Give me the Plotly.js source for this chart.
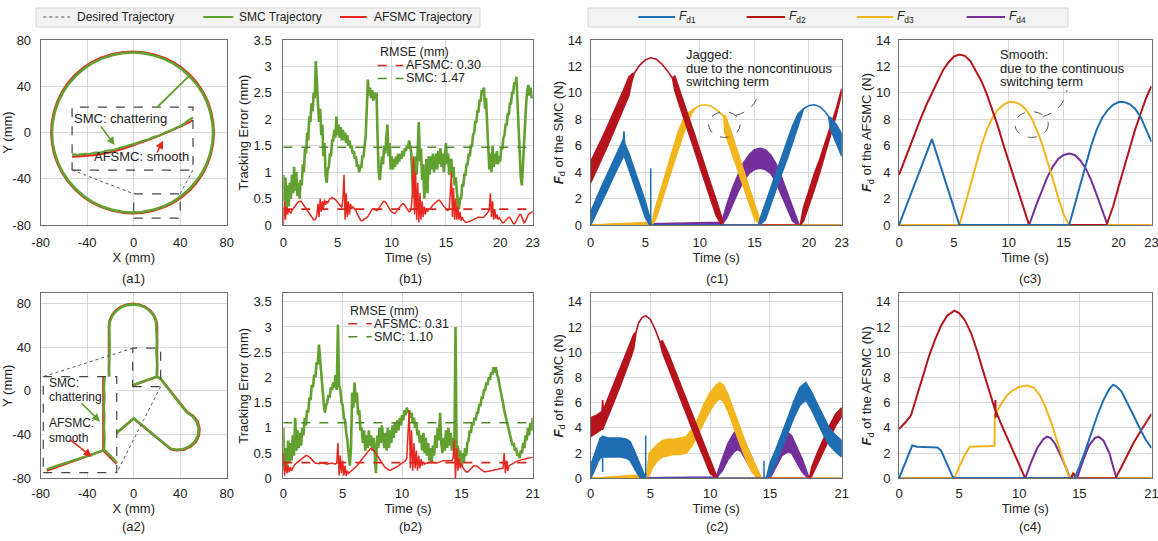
<!DOCTYPE html>
<html><head><meta charset="utf-8">
<script src="https://cdn.plot.ly/plotly-3.0.1.min.js"></script>
<style>html,body{margin:0;padding:0;background:#fff}#chart{width:1158px;height:541px}</style>
</head><body><div id="chart"></div>
<script>
// ---------------- DATA ----------------
// (a1) circular trajectory, mm
const A1_DES_X = [68.5,66.1,59.2,48.1,33.8,17.0,-1,-19.0,-35.8,-50.1,-61.2,-68.1,-70.5,-68.1,-61.2,-50.1,-35.8,-19.0,-1,17.0,33.8,48.1,59.2,66.1,68.5];
const A1_DES_Y = [0,18.0,34.8,49.1,60.2,67.1,69.5,67.1,60.2,49.1,34.8,18.0,0,-18.0,-34.8,-49.1,-60.2,-67.1,-69.5,-67.1,-60.2,-49.1,-34.8,-18.0,0];
const A1_AF_X = [69.0,66.6,59.7,48.6,34.1,17.2,-1,-19.2,-36.2,-50.7,-61.8,-68.6,-71.0,-68.6,-61.6,-50.4,-36.0,-19.1,-1,17.2,34.1,48.6,59.7,66.6,69.0];
const A1_AF_Y = [0,18.2,35.1,49.6,60.7,67.6,70.0,67.7,60.8,49.7,35.1,18.1,0,-18.1,-35.0,-49.4,-60.5,-67.4,-69.9,-67.6,-60.7,-49.6,-35.1,-18.1,0];
const A1_SMC_X = [68.3,65.8,59.0,47.8,33.6,16.8,-1,-18.8,-35.6,-49.9,-61.0,-67.8,-70.3,-67.9,-61.0,-49.9,-35.6,-18.9,-1,16.9,33.6,47.9,59.0,65.9,68.3];
const A1_SMC_Y = [0,17.9,34.6,48.9,59.9,66.8,69.2,66.9,60.0,48.9,34.6,17.9,0,-17.9,-34.6,-48.9,-60.0,-66.9,-69.3,-66.9,-60.0,-48.9,-34.6,-17.9,0];
// (a1) magnified view
const A1_IN_AF_X = [-53,-40,-30,-20,-10,0,10,20,30,40,51];
const A1_IN_AF_Y = [-21,-20.2,-19,-17,-14.3,-11,-7.5,-3.5,0.5,5,10.5];
const A1_IN_SMC_X = [-53,-48,-43,-38,-33,-28,-23,-18,-13,-8,-3,2,7,12,17,22,27,32,37,42,47,51];
const A1_IN_SMC_Y = [-19,-19.4,-18.5,-18.6,-17.4,-17.2,-15.8,-15.3,-13.6,-12.4,-10.7,-9.4,-7.6,-6.2,-4,-2.7,-0.1,1.7,4.3,6.5,10.5,13];

// (a2) composite trajectory, mm
const A2_DES_X = [-0.3,19.8,19.8,19.1,17.1,13.8,9.6,4.7,-0.6,-5.9,-10.8,-15.0,-18.3,-20.3,-21.0,-21.0,0,31.8,36.4,42.7,48.3,52.7,55.4,55.9,54.3,50.7,45.6,23,19.8];
const A2_DES_Y = [5.3,12.9,58.6,63.9,68.8,73.0,76.3,78.3,79.0,78.3,76.3,73.0,68.8,63.9,58.6,-44.3,-25.1,-52.9,-53.9,-53.4,-50.7,-46.3,-40.7,-34.4,-28.4,-23.3,-19.7,11,12.9];
const A2_AF_X = [-0.3,20.2,20.2,19.5,17.5,14.2,9.8,4.8,-0.6,-6.1,-11.1,-15.4,-18.8,-20.8,-21.4,-21.4,0,31.7,36.5,43.0,48.8,53.4,56.2,56.8,55.1,51.3,46.0,23.3,20.2];
const A2_AF_Y = [5.0,12.9,58.6,64.1,69.2,73.5,76.9,78.9,79.7,78.9,76.9,73.5,69.2,64.1,58.6,-44.6,-25.5,-53.4,-54.6,-54.1,-51.3,-46.8,-41.0,-34.5,-28.2,-23.0,-19.3,11.2,12.9];
const A2_SMC_X = [-0.3,10,19.8,20.1,19.6,20.0,19.8,19.1,17.1,13.8,9.6,4.7,-0.6,-5.9,-10.8,-15.0,-18.3,-20.3,-21.0,-20.7,-21.2,-20.8,-21.0,0,15,31.8,36.4,42.7,48.3,52.7,55.4,55.9,54.3,50.7,45.6,35,23,19.8];
const A2_SMC_Y = [5.3,9.1,12.9,24,35,46,58.6,63.9,68.8,73.0,76.3,78.3,79.0,78.3,76.3,73.0,68.8,63.9,58.6,40,20,0,-44.3,-25.1,-38.3,-52.9,-53.9,-53.4,-50.7,-46.3,-40.7,-34.4,-28.4,-23.3,-19.7,-5.5,11,12.9];
// (a2) magnified view
const A2_IN_AF_X = [-26.2,-26.2,-74.8,null,-26.2,-14.6];
const A2_IN_AF_Y = [12.9,-54.6,-73.0,null,-54.6,-66.8];
const A2_IN_SMC_X = [-25.0,-25.6,-25.1,-25.7,-25.2,-25.6,-25.1,-25.5,-35,-45,-55,-65,-74.8,null,-25.5,-20,-14.6];
const A2_IN_SMC_Y = [12.9,3,-6,-15,-24,-33,-43,-54.1,-58.0,-61.2,-64.9,-68.2,-71.8,null,-54.1,-59.3,-65.8];

// (b1) tracking error, mm, sampled every 0.1 s from 0 to 23 s
const B1_DT = 0.1;
const B1_SMC = [0.95,
0.45,0.9,0.3,0.75,0.35, 0.8,0.5,0.95,0.6,1.1, 0.65,1.0,0.55,0.8,0.5, 0.85,0.75,1.15,1.0,1.45,
1.35,1.75,1.6,2.05,1.95, 2.3,2.15,2.5,2.4,3.1, 2.6,2.3,1.95,2.2,1.7, 1.9,1.3,1.55,0.95,0.8,
1.05,1.1,1.35,1.3,1.6, 1.6,1.8,1.65,2.05,1.7, 1.9,1.65,1.85,1.6,1.8, 1.6,1.75,1.55,1.7,1.5,
1.6,1.45,1.5,1.35,1.4, 1.25,1.3,1.1,1.15,1.0, 1.1,1.1,1.3,1.3,1.5, 1.7,2.2,2.75,2.45,2.6,
2.4,2.55,2.35,2.5,2.4, 2.5,1.6,1.0,0.85,1.15, 1.3,1.15,1.5,1.35,1.6, 1.9,1.3,1.55,1.05,1.3,
1.05,1.25,1.1,1.3,1.15, 1.35,1.2,1.35,1.25,1.4, 1.3,1.45,1.4,1.5,1.45, 1.6,1.5,1.35,0.9,0.5,
0.75,1.3,0.95,1.6,1.95, 1.2,1.45,0.85,1.15,0.5, 0.85,1.25,0.6,1.3,0.95, 1.3,1.05,1.35,1.0,1.25,
1.35,1.05,1.4,1.15,1.45, 1.1,1.35,1.0,1.3,1.55, 1.15,1.35,0.95,1.2,1.25, 0.9,1.1,0.75,0.9,0.55,
0.4,0.3,0.5,0.5,0.75, 0.75,0.95,0.95,1.15,1.15, 1.35,1.3,1.5,1.5,1.7, 1.75,1.95,1.95,2.15,2.15,
2.35,2.35,2.55,2.5,2.6, 2.2,2.4,1.9,1.5,1.05, 1.35,1.0,1.5,1.1,1.35, 1.15,1.4,1.15,1.3,1.2,
1.45,1.45,1.65,1.7,1.9, 1.9,2.1,2.1,2.3,2.3, 2.5,2.5,2.7,2.65,2.8, 2.3,1.8,1.3,0.9,0.75,
1.2,1.7,2.1,2.3,2.55, 2.65,2.45,2.6,2.4,2.45];
const B1_AFSMC = [0.0,
0.45,0.1,0.35,0.2,0.3, 0.25,0.22,0.28,0.3,0.33, 0.36,0.4,0.42,0.44,0.45, 0.45,0.43,0.4,0.37,0.34,
0.3,0.27,0.24,0.2,0.17, 0.14,0.12,0.1,0.1,0.12, 0.2,0.4,0.15,0.5,0.25, 0.45,0.3,0.48,0.38,0.45,
0.42,0.47,0.5,0.5,0.52, 0.51,0.5,0.48,0.46,0.43, 0.4,0.37,0.35,0.33,0.5, 0.95,0.1,0.6,0.15,0.45,
0.2,0.4,0.3,0.35,0.32, 0.3,0.27,0.22,0.17,0.13, 0.1,0.08,0.08,0.1,0.11, 0.12,0.14,0.16,0.2,0.24,
0.27,0.3,0.31,0.3,0.28, 0.27,0.28,0.31,0.35,0.39, 0.42,0.44,0.45,0.44,0.41, 0.37,0.33,0.3,0.27,0.25,
0.23,0.22,0.22,0.24,0.27, 0.3,0.33,0.36,0.39,0.4, 0.4,0.38,0.34,0.3,0.27, 0.25,0.26,0.3,0.6,1.3,
0.2,1.0,0.1,0.8,0.05, 0.6,0.1,0.45,0.15,0.35, 0.2,0.32,0.25,0.3,0.3, 0.32,0.35,0.38,0.4,0.42,
0.44,0.46,0.47,0.47,0.45, 0.42,0.38,0.35,0.32,0.3, 0.28,0.28,0.3,0.6,1.0, 0.15,0.7,0.1,0.5,0.1,
0.35,0.1,0.25,0.08,0.15, 0.1,0.07,0.05,0.05,0.05, 0.06,0.07,0.08,0.1,0.11, 0.12,0.13,0.14,0.14,0.15,
0.14,0.14,0.13,0.14,0.15, 0.17,0.2,0.22,0.25,0.3, 0.6,0.15,0.45,0.1,0.3, 0.12,0.2,0.1,0.14,0.1,
0.08,0.05,0.04,0.06,0.08, 0.1,0.13,0.15,0.14,0.1, 0.06,0.03,0.02,0.04,0.08, 0.12,0.16,0.2,0.2,0.15,
0.08,0.04,0.06,0.12,0.17, 0.2,0.22,0.23,0.24,0.25];
const B1_RMSE = [0.30, 1.47];            // [AFSMC, SMC]
const B1_TEND = 23;

// (b2) tracking error, mm, sampled every 0.1 s from 0 to 21 s
const B2_DT = 0.1;
const B2_SMC = [1.0,
0.15,0.6,0.2,0.75,0.3, 0.7,0.35,0.85,0.45,1.2, 0.55,0.95,0.6,0.9,0.65, 1.0,0.85,1.2,1.05,1.35,
1.3,1.6,1.55,1.85,1.8, 2.05,2.0,2.3,2.25,2.65, 2.35,2.0,1.75,1.5,1.3, 1.45,1.5,1.65,1.6,1.8,
1.75,1.9,1.8,2.05,1.75, 3.05,1.85,1.75,1.5,1.45, 1.2,1.15,0.9,0.75,0.5, 0.25,0.6,1.7,1.4,1.9,
1.5,1.7,1.25,1.35,0.95, 1.0,0.7,0.95,0.55,0.85, 0.6,0.95,0.65,0.85,0.55, 0.8,0.5,0.1,0.85,0.6,
1.0,0.7,1.05,0.75,0.6, 0.9,0.55,1.0,0.6,0.95, 0.7,1.05,0.8,1.1,0.9, 1.15,0.95,1.2,1.05,1.25,
1.15,1.35,1.25,1.4,1.3, 1.35,1.2,1.3,1.1,1.2, 1.0,1.1,0.85,0.95,0.7, 0.85,0.55,0.9,0.5,0.8,
0.45,0.7,0.35,0.6,0.3, 0.65,0.45,0.85,0.6,1.0, 0.75,1.3,0.7,0.5,0.8, 0.55,0.95,0.6,1.0,0.65,
0.9,0.55,0.8,0.45,3.0, 0.4,0.65,0.3,0.55,0.25, 0.5,0.3,0.6,0.45,0.7, 0.75,0.95,0.9,1.1,1.05,
1.2,1.15,1.3,1.3,1.45, 1.45,1.6,1.6,1.75,1.75, 1.9,1.85,2.0,1.95,2.1, 2.05,2.2,2.1,2.2,2.05,
2.0,1.85,1.75,1.6,1.5, 1.35,1.25,1.1,1.0,0.9, 0.8,0.75,0.65,0.7,0.55, 0.6,0.45,0.5,0.4,0.55,
0.5,0.7,0.6,0.85,0.75, 1.0,0.85,1.1,0.95,1.2];
const B2_AFSMC = [0.5,
0.05,0.3,0.1,0.25,0.12, 0.22,0.15,0.2,0.25,0.28, 0.3,0.32,0.34,0.36,0.38, 0.4,0.42,0.44,0.45,0.45,
0.44,0.42,0.4,0.37,0.34, 0.32,0.3,0.3,0.29,0.29, 0.3,0.31,0.31,0.3,0.29, 0.28,0.28,0.29,0.3,0.3,
0.3,0.3,0.29,0.28,0.3, 0.7,0.05,0.45,0.1,0.35, 0.05,0.25,0.05,0.15,0.1, 0.12,0.14,0.16,0.18,0.2,
0.22,0.25,0.28,0.31,0.35, 0.38,0.42,0.45,0.48,0.51, 0.54,0.56,0.58,0.59,0.58, 0.56,0.53,0.5,0.46,0.42,
0.38,0.34,0.3,0.27,0.24, 0.21,0.19,0.17,0.16,0.16, 0.17,0.18,0.19,0.2,0.21, 0.23,0.25,0.27,0.29,0.3,
0.32,0.33,0.35,0.4,0.9, 1.35,0.2,0.95,0.15,0.7, 0.2,0.55,0.15,0.45,0.2, 0.38,0.25,0.33,0.28,0.3,
0.3,0.31,0.32,0.33,0.33, 0.32,0.31,0.3,0.3,0.31, 0.32,0.33,0.34,0.34,0.35, 0.35,0.35,0.35,0.35,0.34,
0.34,0.35,0.4,0.75,0.0, 0.6,0.15,0.4,0.2,0.3, 0.22,0.18,0.15,0.13,0.12, 0.14,0.17,0.2,0.22,0.24,
0.25,0.25,0.24,0.22,0.2, 0.18,0.16,0.14,0.13,0.13, 0.13,0.14,0.14,0.15,0.15, 0.16,0.16,0.17,0.17,0.18,
0.18,0.19,0.19,0.2,0.2, 0.5,0.1,0.35,0.15,0.25, 0.26,0.28,0.29,0.3,0.32, 0.33,0.34,0.35,0.36,0.36,
0.37,0.38,0.38,0.39,0.39, 0.4,0.4,0.41,0.41,0.42];
const B2_RMSE = [0.31, 1.10];            // [AFSMC, SMC]
const B2_TEND = 21;

// (c1) SMC forces, N: time, lower and upper edge of the chattering band
const C1_FD1_T  = [0,0.5,1,1.5,2,2.5,3,3.05,3.1,3.5,4,4.5,5,5.4,5.5,15.4,15.5,16,16.5,17,17.5,18,18.5,19,19.5,20,20.5,21,21.5,21.8,22,22.5,23];
const C1_FD1_LO = [0,0.8,1.7,2.6,3.5,4.4,5.2,5.3,5.1,4.1,2.9,1.8,0.6,0,0,0,0,0.4,1.6,2.7,3.9,5.0,6.2,7.5,8.8,9.05,9.1,8.95,8.55,8.2,7.2,6.2,5.2];
const C1_FD1_HI = [1.0,2.0,2.9,3.8,4.7,5.6,6.5,7.1,6.2,5.4,4.2,3.0,1.8,0.6,0,0,0.4,1.6,2.8,4.0,5.2,6.3,7.5,8.4,8.8,9.05,9.1,8.95,8.55,8.2,8.1,7.6,6.9];
const C1_FD1_SPIKE_T = [5.5], C1_FD1_SPIKE_LO = [0], C1_FD1_SPIKE_HI = [4.3];
const C1_FD2_T  = [0,0.5,1,1.5,2,2.5,3,3.5,3.75,4,4.5,5,5.5,6,6.5,7,7.5,7.7,8,8.5,9,9.5,10,10.5,11,11.5,12,12.1,19.2,19.5,20,20.5,21,21.5,22,22.5,23];
const C1_FD2_LO = [3.2,4.1,5.0,5.9,6.8,7.8,8.8,9.8,10.8,11.5,12.1,12.5,12.65,12.55,12.2,11.7,11.1,10.2,9.4,8.2,6.9,5.7,4.4,3.2,1.9,0.7,0,0,0,0.3,1.5,2.7,4.0,5.3,6.8,8.3,10.0];
const C1_FD2_HI = [4.8,5.6,6.5,7.4,8.3,9.2,10.2,11.2,11.4,11.5,12.1,12.5,12.65,12.55,12.2,11.7,11.1,11.3,10.6,9.4,8.1,6.9,5.6,4.4,3.1,1.9,0.6,0,0,1.3,2.6,3.9,5.0,6.3,7.5,8.8,10.3];
const C1_FD3_T  = [0,5.6,6,6.5,7,7.5,8,8.5,9,9.5,10,10.5,11,11.5,12,12.2,12.3,12.5,13,13.5,14,14.5,15,15.5,15.6,23];
const C1_FD3_LO = [0,0,0.5,1.8,3.1,4.4,5.7,6.9,8.0,8.8,9.05,9.1,9.0,8.75,8.4,8.2,7.0,6.6,5.4,4.1,2.9,1.7,0.5,0,0,0];
const C1_FD3_HI = [0,0.2,1.5,2.9,4.3,5.7,7.0,8.0,8.5,8.8,9.05,9.1,9.0,8.75,8.4,8.2,8.3,7.9,6.7,5.4,4.1,2.8,1.6,0.4,0,0];
const C1_FD4_T  = [0,12,12.5,13,13.5,14,14.5,15,15.5,16,16.5,17,17.5,18,18.5,19,19.1,23];
const C1_FD4_LO = [0,0,0.6,1.6,2.5,3.3,3.9,4.2,4.3,4.2,3.9,3.2,2.3,1.3,0.3,0,0,0];
const C1_FD4_HI = [0,0.2,1.6,2.8,3.8,4.7,5.3,5.7,5.8,5.7,5.3,4.6,3.6,2.5,1.4,0.2,0,0];

// (c2) SMC forces, N
const C2_FD1_T  = [0,0.3,0.6,0.8,1.0,1.5,2,2.5,3,3.3,3.6,3.9,4.2,4.5,4.6,14.7,15,15.5,16,16.5,17,17.5,18,18.5,19,19.5,20,20.5,21];
const C2_FD1_LO = [0,0.6,1.3,1.6,1.7,1.7,1.7,1.7,1.6,1.4,0.9,0.4,0,0,0,0,0.2,1.2,2.4,3.6,4.8,5.8,6.2,5.4,4.4,3.4,2.6,2.1,1.7];
const C2_FD1_HI = [1.0,1.8,2.7,3.2,3.3,3.2,3.2,3.2,3.1,2.9,2.3,1.6,0.8,0.2,0,0,1.2,2.3,3.5,4.8,6.1,7.2,7.6,6.8,5.8,4.8,3.9,3.4,3.0];
const C2_FD1_SPIKE_T = [1.0,4.6,14.5], C2_FD1_SPIKE_LO = [0.5,0,0], C2_FD1_SPIKE_HI = [3.4,3.4,1.4];
const C2_FD2_T  = [0,0.5,0.95,1.0,1.05,1.5,2,2.5,3,3.4,3.6,3.8,4,4.3,4.6,5.0,5.4,5.8,6,6.5,7,7.5,8,8.5,9,9.5,10,10.5,10.6,18.3,18.5,19,19.5,20,20.5,21];
const C2_FD2_LO = [3.3,3.6,3.9,3.9,4.0,5.0,6.2,7.4,8.6,9.7,10.3,11.6,12.3,12.75,12.9,12.6,11.8,10.8,10.0,8.7,7.5,6.3,5.1,3.9,2.7,1.5,0.4,0,0,0,0.2,1.2,2.2,3.2,4.2,4.9];
const C2_FD2_HI = [4.8,5.0,5.3,6.2,5.4,6.5,7.6,8.8,10.0,11.0,11.4,11.6,12.3,12.75,12.9,12.6,11.8,10.8,10.9,9.9,8.7,7.5,6.3,5.1,3.9,2.7,1.5,0.3,0,0,0.9,2.1,3.2,4.2,5.1,5.6];
const C2_FD3_T  = [0,4.7,4.9,5.2,5.6,6,6.5,7,7.5,8,8.5,9,9.5,10,10.5,10.8,11.1,11.5,12,12.5,13,13.5,14,14.2,14.3,21];
const C2_FD3_LO = [0,0,0.3,0.9,1.4,1.7,1.8,1.9,1.9,2.0,2.6,3.5,4.5,5.4,6.1,6.3,6.1,5.3,4.0,2.7,1.5,0.5,0,0,0,0];
const C2_FD3_HI = [0,0.3,2.0,2.3,2.7,3.0,3.1,3.1,3.2,3.3,3.9,4.8,5.9,6.8,7.4,7.6,7.4,6.6,5.3,4.0,2.7,1.6,0.6,0.1,0,0];
const C2_FD4_T  = [0,10.5,11,11.5,12,12.3,12.6,13,13.5,14,14.1,15,15.5,16,16.5,16.8,17.2,17.7,18.2,18.3,21];
const C2_FD4_LO = [0,0,0.6,1.5,2.1,2.3,2.1,1.5,0.6,0,0,0,0.9,1.8,2.1,2.0,1.4,0.5,0,0,0];
const C2_FD4_HI = [0,0.1,1.5,2.8,3.6,3.8,3.5,2.7,1.6,0.2,0,0.1,1.8,3.1,3.6,3.4,2.6,1.5,0.2,0,0];

// (c3) AFSMC forces, N
const C3_FD1_T = [0,3,5.5,15.5,16,16.5,17,17.5,18,18.5,19,19.5,20,20.5,21,21.5,22,22.5,23];
const C3_FD1_V = [0,6.5,0,0,1.5,3.0,4.6,6.0,7.2,8.1,8.7,9.1,9.3,9.3,9.15,8.8,8.2,7.3,6.3];
const C3_FD2_T = [0,0.5,1,1.5,2,2.5,3,3.5,4,4.5,5,5.5,6,6.5,7,7.5,8,8.5,9,9.5,10,10.5,11,11.5,11.85,18.9,19.5,20,20.5,21,21.5,22,22.5,23];
const C3_FD2_V = [3.8,4.9,6.0,7.1,8.1,9.1,10.0,10.9,11.7,12.3,12.75,12.9,12.8,12.4,11.7,10.9,9.9,8.7,7.5,6.1,4.8,3.4,2.1,0.8,0,0,1.4,2.9,4.3,5.8,7.2,8.4,9.6,10.5];
const C3_FD3_T = [0,5.5,6,6.5,7,7.5,8,8.5,9,9.5,10,10.5,11,11.5,12,12.5,13,13.5,14,14.5,15,15.5,23];
const C3_FD3_V = [0,0,1.5,3.0,4.6,6.0,7.2,8.1,8.7,9.1,9.3,9.3,9.15,8.8,8.2,7.3,6.2,4.9,3.5,2.1,0.8,0,0];
const C3_FD4_T = [0,11.85,12.5,13,13.5,14,14.5,15,15.5,16,16.5,17,17.5,18,18.5,19,23];
const C3_FD4_V = [0,0,1.5,2.6,3.6,4.4,5.0,5.3,5.4,5.3,4.9,4.3,3.4,2.3,1.1,0,0];

// (c4) AFSMC forces, N
const C4_FD1_T = [0,0.5,1.0,1.1,1.5,2,2.5,3,3.2,3.5,3.8,4.1,4.4,4.55,14.6,15,15.5,16,16.5,17,17.5,17.8,18,18.5,19,19.5,20,20.5,21];
const C4_FD1_V = [0,1.2,2.5,2.6,2.5,2.5,2.5,2.5,2.45,2.2,1.6,0.9,0.25,0,0,0.9,2.2,3.6,5.0,6.2,7.1,7.4,7.35,6.9,6.0,5.0,4.0,3.1,2.4];
const C4_FD2_T = [0,0.5,1,1.5,2,2.5,3,3.5,4,4.6,5,5.5,6,6.5,7,7.5,8.0,8.02,8.04,8.06,8.5,9,9.5,10,10.5,14.3,14.5,14.7,18,18.5,19,19.5,20,20.5,21];
const C4_FD2_V = [3.9,4.4,5.0,6.6,8.2,9.7,11.0,12.1,12.9,13.3,13.1,12.5,11.5,10.1,8.5,6.9,5.4,6.2,4.8,5.3,4.3,3.2,2.1,1.0,0,0,0.4,0,0,0.9,1.9,2.8,3.6,4.4,5.1];
const C4_FD3_T = [0,4.6,5,5.5,5.9,6.5,7,7.5,7.95,7.97,8.5,9,9.5,10,10.7,11.2,11.7,12.2,12.7,13.2,13.7,14.1,14.3,14.5,14.7,21];
const C4_FD3_V = [0,0,0.9,1.9,2.5,2.55,2.55,2.55,2.6,5.0,5.9,6.6,7.0,7.25,7.35,7.2,6.6,5.6,4.3,2.8,1.4,0.2,0,0.5,0,0];
const C4_FD4_T = [0,10.5,11,11.5,12,12.3,12.6,13,13.5,14,14.2,14.8,15.3,15.8,16.3,16.6,17,17.5,17.9,18.1,21];
const C4_FD4_V = [0,0,1.3,2.4,3.1,3.3,3.2,2.7,1.7,0.6,0,0,1.4,2.6,3.2,3.3,3.0,2.0,0.6,0,0];

// tick labels
const POS_TICKS = [-80,-40,0,40,80];
const ERR_TICKS = [0,0.5,1,1.5,2,2.5,3,3.5];
const F_TICKS = [0,2,4,6,8,10,12,14];
const T23_TICKS = [0,5,10,15,20,23];
const T21_TICKS = [0,5,10,15,21];
const FD_NAMES = ['<i>F</i><sub>d1</sub>','<i>F</i><sub>d2</sub>','<i>F</i><sub>d3</sub>','<i>F</i><sub>d4</sub>'];
const TRAJ_NAMES = ['Desired Trajectory','SMC Trajectory','AFSMC Trajectory'];

// ---------------- STYLE / LAYOUT ----------------
const W = 1158, H = 541;
const PX = v => v / W, PY = v => 1 - v / H;
const FONT = 'Liberation Sans, Arial, Helvetica, sans-serif';
const GREEN = '#62a030', RED = '#e8281e', GRAY = '#8a8a8a', DARK = '#444';
const C_BLUE = '#1f6db3', C_RED = '#b5141c', C_YEL = '#f2b51d', C_PUR = '#74309a';
const FD_COLORS = [C_BLUE, C_RED, C_YEL, C_PUR];
const INSET_A2 = {x0: -77.8, x1: -14.6, y0: -74.8, y1: 12.9};

function mkAxis(dom, range, vals, title, tls, standoff) {
  return {
    domain: dom, range: range, tickmode: 'array', tickvals: vals,
    ticktext: vals.map(String),
    showgrid: true, gridcolor: '#d9d9d9', gridwidth: 1, zeroline: false,
    showline: true, linecolor: '#6e6e6e', linewidth: 1, mirror: true,
    ticks: '', ticklabelstandoff: tls, ticklabeloverflow: 'allow',
    tickfont: {family: FONT, size: 13, color: '#222'},
    title: {text: title, font: {family: FONT, size: 13, color: '#222'}, standoff: standoff},
    automargin: false, fixedrange: true
  };
}

const COL = {a: [PX(40.7), PX(226.7)], b: [PX(283.3), PX(532.7)], c: [PX(590.7), PX(841.7)], d: [PX(899), PX(1151.5)]};
const ROW1 = [PY(225), PY(40)], ROW2 = [PY(478.3), PY(293.3)];
const FTITLE_SMC = '<b><i>F</i></b><sub>d</sub> of the SMC (N)';
const FTITLE_AF = '<b><i>F</i></b><sub>d</sub> of the AFSMC (N)';

const traces = [];
function line(x, y, xa, ya, color, width, extra) {
  traces.push(Object.assign({type: 'scatter', mode: 'lines', x: x, y: y, xaxis: xa, yaxis: ya,
    line: {color: color, width: width}, hoverinfo: 'skip', showlegend: false}, extra || {}));
}
function band(t, lo, hi, xa, ya, color) {
  traces.push({type: 'scatter', mode: 'lines', xaxis: xa, yaxis: ya,
    x: t.concat(t.slice().reverse()), y: hi.concat(lo.slice().reverse()),
    fill: 'toself', fillcolor: color, line: {color: color, width: 1.6},
    hoverinfo: 'skip', showlegend: false});
}
function spikes(t, lo, hi, xa, ya, color) {
  const x = [], y = [];
  t.forEach((v, i) => { x.push(v, v, null); y.push(lo[i], hi[i], null); });
  line(x, y, xa, ya, color, 1.5);
}
function series(dt, vals, xa, ya, color, width) {
  traces.push({type: 'scatter', mode: 'lines', x0: 0, dx: dt, y: vals, xaxis: xa, yaxis: ya,
    line: {color: color, width: width}, hoverinfo: 'skip', showlegend: false});
}

// (a1)
line(A1_DES_X, A1_DES_Y, 'x', 'y', GRAY, 1.5, {line: {color: GRAY, width: 1.5, dash: 'dot', shape: 'spline'}});
line(A1_AF_X, A1_AF_Y, 'x', 'y', RED, 2.2, {line: {color: RED, width: 2.2, shape: 'spline'}});
line(A1_SMC_X, A1_SMC_Y, 'x', 'y', GREEN, 2.6, {line: {color: GREEN, width: 2.6, shape: 'spline'}});
line(A1_IN_AF_X, A1_IN_AF_Y, 'x', 'y', RED, 2, {line: {color: RED, width: 2, shape: 'spline'}});
line(A1_IN_SMC_X, A1_IN_SMC_Y, 'x', 'y', GREEN, 2.2);

// (a2)
line(A2_DES_X, A2_DES_Y, 'x5', 'y5', GRAY, 1.5, {line: {color: GRAY, width: 1.5, dash: 'dot'}});
line(A2_AF_X, A2_AF_Y, 'x5', 'y5', RED, 2.2);
line(A2_SMC_X, A2_SMC_Y, 'x5', 'y5', GREEN, 2.6);
traces.push({type: 'scatter', mode: 'lines', xaxis: 'x5', yaxis: 'y5', hoverinfo: 'skip', showlegend: false,
  x: [INSET_A2.x0, INSET_A2.x1, INSET_A2.x1, INSET_A2.x0, INSET_A2.x0],
  y: [INSET_A2.y1, INSET_A2.y1, INSET_A2.y0, INSET_A2.y0, INSET_A2.y1],
  fill: 'toself', fillcolor: '#ffffff', line: {width: 0, color: 'rgba(0,0,0,0)'}});
line(A2_IN_AF_X, A2_IN_AF_Y, 'x5', 'y5', RED, 2.2);
line(A2_IN_SMC_X, A2_IN_SMC_Y, 'x5', 'y5', GREEN, 2.4);

// (b1), (b2)
series(B1_DT, B1_SMC, 'x2', 'y2', GREEN, 2.6);
series(B1_DT, B1_AFSMC, 'x2', 'y2', RED, 1.5);
line([0, B1_TEND], [B1_RMSE[0], B1_RMSE[0]], 'x2', 'y2', '#d7261e', 1.6, {line: {color: '#d7261e', width: 1.6, dash: 'dash'}});
line([0, B1_TEND], [B1_RMSE[1], B1_RMSE[1]], 'x2', 'y2', '#4f8a2a', 1.6, {line: {color: '#4f8a2a', width: 1.6, dash: 'dash'}});
series(B2_DT, B2_SMC, 'x6', 'y6', GREEN, 2.6);
series(B2_DT, B2_AFSMC, 'x6', 'y6', RED, 1.5);
line([0, B2_TEND], [B2_RMSE[0], B2_RMSE[0]], 'x6', 'y6', '#d7261e', 1.6, {line: {color: '#d7261e', width: 1.6, dash: 'dash'}});
line([0, B2_TEND], [B2_RMSE[1], B2_RMSE[1]], 'x6', 'y6', '#4f8a2a', 1.6, {line: {color: '#4f8a2a', width: 1.6, dash: 'dash'}});

// (c1), (c2): chattering bands; order purple, yellow, red, blue
band(C1_FD4_T, C1_FD4_LO, C1_FD4_HI, 'x3', 'y3', C_PUR);
band(C1_FD3_T, C1_FD3_LO, C1_FD3_HI, 'x3', 'y3', C_YEL);
band(C1_FD2_T, C1_FD2_LO, C1_FD2_HI, 'x3', 'y3', C_RED);
band(C1_FD1_T, C1_FD1_LO, C1_FD1_HI, 'x3', 'y3', C_BLUE);
spikes(C1_FD1_SPIKE_T, C1_FD1_SPIKE_LO, C1_FD1_SPIKE_HI, 'x3', 'y3', C_BLUE);
band(C2_FD4_T, C2_FD4_LO, C2_FD4_HI, 'x7', 'y7', C_PUR);
band(C2_FD3_T, C2_FD3_LO, C2_FD3_HI, 'x7', 'y7', C_YEL);
band(C2_FD2_T, C2_FD2_LO, C2_FD2_HI, 'x7', 'y7', C_RED);
band(C2_FD1_T, C2_FD1_LO, C2_FD1_HI, 'x7', 'y7', C_BLUE);
spikes(C2_FD1_SPIKE_T, C2_FD1_SPIKE_LO, C2_FD1_SPIKE_HI, 'x7', 'y7', C_BLUE);

// (c3), (c4)
line(C3_FD4_T, C3_FD4_V, 'x4', 'y4', C_PUR, 2);
line(C3_FD3_T, C3_FD3_V, 'x4', 'y4', C_YEL, 2);
line(C3_FD2_T, C3_FD2_V, 'x4', 'y4', C_RED, 2);
line(C3_FD1_T, C3_FD1_V, 'x4', 'y4', C_BLUE, 2);
line(C4_FD4_T, C4_FD4_V, 'x8', 'y8', C_PUR, 2);
line(C4_FD3_T, C4_FD3_V, 'x8', 'y8', C_YEL, 2);
line(C4_FD2_T, C4_FD2_V, 'x8', 'y8', C_RED, 2);
line(C4_FD1_T, C4_FD1_V, 'x8', 'y8', C_BLUE, 2);

// ---------------- shapes ----------------
const shapes = [];
function pshape(s) { shapes.push(Object.assign({layer: 'above'}, s)); }
// legend boxes
pshape({type: 'rect', xref: 'paper', yref: 'paper', x0: PX(36), x1: PX(480), y0: PY(27), y1: PY(8), fillcolor: '#f3f3f3', line: {color: '#d6d6d6', width: 1}, layer: 'below'});
pshape({type: 'rect', xref: 'paper', yref: 'paper', x0: PX(588), x1: PX(1068), y0: PY(27), y1: PY(8), fillcolor: '#f3f3f3', line: {color: '#d6d6d6', width: 1}, layer: 'below'});
const LEG1 = [[43.3, 70, GRAY, 'dot'], [203.3, 233.3, GREEN, 'solid'], [340, 366.7, RED, 'solid']];
LEG1.forEach(s => pshape({type: 'line', xref: 'paper', yref: 'paper', x0: PX(s[0]), x1: PX(s[1]), y0: PY(17), y1: PY(17), line: {color: s[2], width: s[3] === 'dot' ? 1.5 : 2, dash: s[3]}}));
const LEG2 = [[638.3, 675], [746.7, 785], [856.7, 893.3], [966.7, 1005]];
LEG2.forEach((s, i) => pshape({type: 'line', xref: 'paper', yref: 'paper', x0: PX(s[0]), x1: PX(s[1]), y0: PY(17), y1: PY(17), line: {color: FD_COLORS[i], width: 2}}));
// RMSE legend samples
[[377.7, 403.3, 65.5, '#d7261e'], [377.7, 403.3, 78.5, '#4f8a2a'], [348.3, 371.7, 323.8, '#d7261e'], [348.3, 371.7, 336.8, '#4f8a2a']].forEach(s =>
  pshape({type: 'line', xref: 'paper', yref: 'paper', x0: PX(s[0]), x1: PX(s[1]), y0: PY(s[2]), y1: PY(s[2]), line: {color: s[3], width: 1.6, dash: 'dash'}}));
// (a1) zoom boxes
pshape({type: 'rect', xref: 'x', yref: 'y', x0: -53, x1: 51, y0: -32.5, y1: 22, line: {color: DARK, width: 1.2, dash: 'dash'}});
pshape({type: 'rect', xref: 'x', yref: 'y', x0: 0, x1: 40, y0: -74, y1: -53, line: {color: DARK, width: 1.2, dash: 'dash'}});
pshape({type: 'line', xref: 'x', yref: 'y', x0: -53, y0: -32.5, x1: 0, y1: -53, line: {color: '#555', width: 1, dash: 'dot'}});
pshape({type: 'line', xref: 'x', yref: 'y', x0: 51, y0: -32.5, x1: 40, y1: -53, line: {color: '#555', width: 1, dash: 'dot'}});
pshape({type: 'line', xref: 'x', yref: 'y', x0: 47, y0: 48.3, x1: 19.8, y1: 21.5, line: {color: GREEN, width: 2}});
// (a2) zoom boxes
pshape({type: 'rect', xref: 'x5', yref: 'y5', x0: INSET_A2.x0, x1: INSET_A2.x1, y0: INSET_A2.y0, y1: INSET_A2.y1, line: {color: DARK, width: 1.2, dash: 'dash'}});
pshape({type: 'rect', xref: 'x5', yref: 'y5', x0: -0.9, x1: 23.2, y0: 3.8, y1: 38.9, line: {color: DARK, width: 1.2, dash: 'dash'}});
pshape({type: 'line', xref: 'x5', yref: 'y5', x0: -0.9, y0: 38.9, x1: INSET_A2.x0, y1: INSET_A2.y1, line: {color: '#555', width: 1, dash: 'dot'}});
pshape({type: 'line', xref: 'x5', yref: 'y5', x0: 23.2, y0: 3.8, x1: INSET_A2.x1, y1: INSET_A2.y0, line: {color: '#555', width: 1, dash: 'dot'}});
// (c1), (c3) callouts
pshape({type: 'circle', xref: 'x3', yref: 'y3', x0: 10.8, x1: 13.7, y0: 6.63, y1: 8.58, line: {color: '#555', width: 1, dash: 'dash'}});
pshape({type: 'path', xref: 'x3', yref: 'y3', path: 'M 13.3 8.3 Q 15.1 8.7 15.4 10.1', line: {color: '#555', width: 1, dash: 'dash'}});
pshape({type: 'circle', xref: 'x4', yref: 'y4', x0: 10.55, x1: 13.6, y0: 6.63, y1: 8.58, line: {color: '#555', width: 1, dash: 'dash'}});
pshape({type: 'path', xref: 'x4', yref: 'y4', path: 'M 13.1 8.2 Q 15.0 8.7 15.3 10.2', line: {color: '#555', width: 1, dash: 'dash'}});

// ---------------- annotations ----------------
const ann = [];
function ptext(text, x, y, size, anchor) {
  ann.push({xref: 'paper', yref: 'paper', x: PX(x), y: PY(y), text: text, showarrow: false,
    xanchor: anchor || 'left', yanchor: 'middle', font: {family: FONT, size: size || 13, color: '#222'}});
}
function dtext(text, xa, ya, x, y, size) {
  ann.push({xref: xa, yref: ya, x: x, y: y, text: text, showarrow: false, xanchor: 'left', yanchor: 'middle',
    font: {family: FONT, size: size || 13, color: '#222'}});
}
function arrow(xa, ya, x0, y0, x1, y1, color) {
  ann.push({xref: xa, yref: ya, axref: xa, ayref: ya, x: x1, y: y1, ax: x0, ay: y0, text: '', showarrow: true,
    arrowhead: 2, arrowsize: 1, arrowwidth: 1.6, arrowcolor: color, standoff: 0});
}
// top legends
[75, 236.7, 371.7].forEach((x, i) => ptext(TRAJ_NAMES[i], x, 17, 12));
[676.7, 786.7, 895, 1006.7].forEach((x, i) => ptext(FD_NAMES[i], x, 17, 12));
// RMSE legends
ptext('RMSE (mm)', 378.3, 52, 12.5);
ptext('AFSMC: ' + B1_RMSE[0].toFixed(2), 403.5, 65.5, 12.5);
ptext('SMC: ' + B1_RMSE[1].toFixed(2), 403.5, 78.5, 12.5);
ptext('RMSE (mm)', 348.3, 310.5, 12.5);
ptext('AFSMC: ' + B2_RMSE[0].toFixed(2), 371.9, 323.8, 12.5);
ptext('SMC: ' + B2_RMSE[1].toFixed(2), 371.9, 336.8, 12.5);
// panel labels
[['(a1)', 133.7, 278.3], ['(b1)', 410, 278.3], ['(c1)', 716.7, 278.3], ['(c3)', 1030, 278.3],
 ['(a2)', 133.7, 526.7], ['(b2)', 410, 526.7], ['(c2)', 716.7, 526.7], ['(c4)', 1030, 526.7]]
  .forEach(p => ptext(p[0], p[1], p[2], 13, 'center'));
// (a1) notes
dtext('SMC: chattering', 'x', 'y', -53.5, 12.3, 13);
dtext('AFSMC: smooth', 'x', 'y', -35.5, -21, 13);
arrow('x', 'y', -29.2, 6.5, -16.3, -10.8, GREEN);
arrow('x', 'y', 19.5, -18.6, 25.2, -7.1, RED);
// (a2) notes
dtext('SMC:', 'x5', 'y5', -74.5, 6.9, 12);
dtext('chattering', 'x5', 'y5', -74.5, -5.4, 12);
dtext('AFSMC:', 'x5', 'y5', -74.5, -29.7, 12);
dtext('smooth', 'x5', 'y5', -74.5, -43.4, 12);
arrow('x5', 'y5', -46.2, -9.9, -29, -28.2, GREEN);
arrow('x5', 'y5', -56.3, -43.4, -36.1, -60.2, RED);
// (c1), (c3) notes
ptext('Jagged:', 684, 55, 13); ptext('due to the noncontinuous', 684, 68.3, 13); ptext('switching term', 684, 81.7, 13);
ptext('Smooth:', 998, 55, 13); ptext('due to the continuous', 998, 68.3, 13); ptext('switching term', 998, 81.7, 13);

const layout = {
  width: W, height: H, margin: {l: 0, r: 0, t: 0, b: 0}, paper_bgcolor: '#fff', plot_bgcolor: '#fff',
  showlegend: false, hovermode: false, font: {family: FONT, color: '#222'},
  xaxis:  mkAxis(COL.a, [-80, 80], POS_TICKS, 'X (mm)', 5, 2),
  yaxis:  mkAxis(ROW1, [-80, 80], POS_TICKS, 'Y (mm)', 6, 2),
  xaxis2: mkAxis(COL.b, [0, 23], T23_TICKS, 'Time (s)', 5, 2),
  yaxis2: mkAxis(ROW1, [0, 3.5], ERR_TICKS, 'Tracking Error (mm)', 8, 2),
  xaxis3: mkAxis(COL.c, [0, 23], T23_TICKS, 'Time (s)', 5, 2),
  yaxis3: mkAxis(ROW1, [0, 14], F_TICKS, FTITLE_SMC, 5, 1),
  xaxis4: mkAxis(COL.d, [0, 23], T23_TICKS, 'Time (s)', 5, 2),
  yaxis4: mkAxis(ROW1, [0, 14], F_TICKS, FTITLE_AF, 5, 1),
  xaxis5: mkAxis(COL.a, [-80, 80], POS_TICKS, 'X (mm)', 3, 2),
  yaxis5: mkAxis(ROW2, [-80, 89.1], POS_TICKS, 'Y (mm)', 6, 2),
  xaxis6: mkAxis(COL.b, [0, 21], T21_TICKS, 'Time (s)', 3, 2),
  yaxis6: mkAxis(ROW2, [0, 3.667], ERR_TICKS, 'Tracking Error (mm)', 8, 2),
  xaxis7: mkAxis(COL.c, [0, 21], T21_TICKS, 'Time (s)', 3, 2),
  yaxis7: mkAxis(ROW2, [0, 14.67], F_TICKS, FTITLE_SMC, 5, 1),
  xaxis8: mkAxis(COL.d, [0, 21], T21_TICKS, 'Time (s)', 3, 2),
  yaxis8: mkAxis(ROW2, [0, 14.67], F_TICKS, FTITLE_AF, 5, 1),
  shapes: shapes, annotations: ann
};
['yaxis','yaxis2','yaxis3','yaxis4'].forEach((k,i)=>{ layout[k].anchor = ['x','x2','x3','x4'][i]; });
['yaxis5','yaxis6','yaxis7','yaxis8'].forEach((k,i)=>{ layout[k].anchor = ['x5','x6','x7','x8'][i]; });
['xaxis','xaxis2','xaxis3','xaxis4'].forEach((k,i)=>{ layout[k].anchor = ['y','y2','y3','y4'][i]; });
['xaxis5','xaxis6','xaxis7','xaxis8'].forEach((k,i)=>{ layout[k].anchor = ['y5','y6','y7','y8'][i]; });

Plotly.newPlot('chart', traces, layout, {displayModeBar: false, staticPlot: true});
</script></body></html>
